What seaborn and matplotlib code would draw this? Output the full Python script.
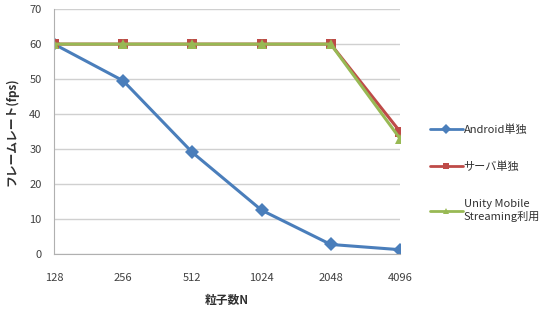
import matplotlib.pyplot as plt
import pandas as pd
import numpy as np
import seaborn as sns

particles = ['128', '256', '512', '1024', '2048', '4096']
android_fps = [60, 49.5, 29, 12.5, 2.7, 1.2]
server_fps = [60, 60, 60, 60, 60, 35]
unity_fps = [60, 60, 60, 60, 60, 33]
series_names = ['Android単独', 'サーバ単独', 'Unity Mobile\nStreaming利用']

df = pd.DataFrame({
    'N': particles * 3,
    'fps': android_fps + server_fps + unity_fps,
    'method': np.repeat(series_names, len(particles)),
})

sns.set_style('white')
plt.rcParams['font.family'] = ['Noto Sans CJK JP', 'DejaVu Sans']
plt.rcParams['font.size'] = 8

fig = plt.figure(figsize=(5.57, 3.15), dpi=100)
ax = fig.add_axes([0.097, 0.194, 0.621, 0.777])

palette = ['#4a7ebb', '#be4b48', '#98b954']
sns.lineplot(data=df, x='N', y='fps', hue='method', style='method',
             markers=['D', 's', '^'], dashes=False, palette=palette,
             linewidth=2.2, markersize=7, markeredgewidth=0, ax=ax,
             sort=False)

ax.set_xlim(0, 5)
ax.set_ylim(0, 70)
ax.set_yticks(range(0, 71, 10))
ax.grid(axis='y', color='#d0d0d0', linewidth=1)
ax.set_axisbelow(True)
for s in ['top', 'right']:
    ax.spines[s].set_visible(False)
for s in ['left', 'bottom']:
    ax.spines[s].set_color('#b0b0b0')
ax.tick_params(axis='both', colors='#404040', labelsize=8, length=0)
ax.tick_params(axis='x', pad=14)
ax.tick_params(axis='y', pad=9)
for lab in ax.get_xticklabels() + ax.get_yticklabels():
    lab.set_color('#404040')

ax.set_xlabel('粒子数N', fontsize=8.5, fontweight='bold', color='#303030', labelpad=8)
ax.set_ylabel('フレームレート(fps)', fontsize=8.5, fontweight='bold', color='#303030', labelpad=8)

handles, labels = ax.get_legend_handles_labels()
for h in handles:
    h.set_markersize(5)
    h.set_linewidth(2)
leg = ax.legend(handles, labels, loc='center left', bbox_to_anchor=(1.075, 0.33),
                frameon=False, fontsize=8, labelspacing=2.4, handlelength=2.9,
                handletextpad=0.1, borderaxespad=0)
for t in leg.get_texts():
    t.set_color('#303030')

fig.savefig('out.png', dpi=100)
